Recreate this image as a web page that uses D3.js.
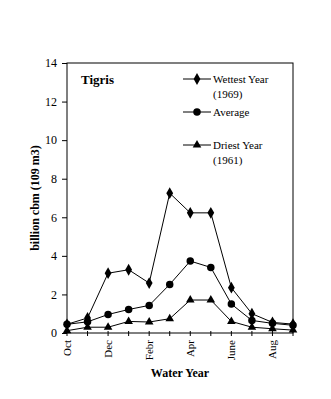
<!DOCTYPE html>
<html>
<head>
  <style>
    body { margin: 0; background: #fff; }
    text { font-family: "Liberation Serif", "Times New Roman", serif; fill: #000; }
  </style>
  <script src="https://d3js.org/d3.v7.min.js"></script>
</head>
<body>
  <svg id="chart" width="331" height="399"></svg>
  <script>
    // months of the water year, Oct..Sep
    const months = ['Oct', 'Nov', 'Dec', 'Jan', 'Febr', 'Mar', 'Apr', 'May', 'June', 'Jul', 'Aug', 'Sep'];
    const shownLabels = ['Oct', 'Dec', 'Febr', 'Apr', 'June', 'Aug'];
    const wettest = [0.45, 0.78, 3.1, 3.28, 2.59, 7.25, 6.23, 6.23, 2.35, 1.0, 0.55, 0.46];
    const average = [0.45, 0.58, 0.96, 1.22, 1.43, 2.52, 3.73, 3.4, 1.5, 0.65, 0.5, 0.4];
    const driest = [0.12, 0.3, 0.3, 0.6, 0.57, 0.74, 1.71, 1.71, 0.6, 0.3, 0.22, 0.15];
    const yTicks = [0, 2, 4, 6, 8, 10, 12, 14];

    const svg = d3.select('#chart');
    const plotL = 67, plotR = 293, plotT = 63, plotB = 333;

    const x = d3.scalePoint().domain(months).range([plotL, plotR]);
    const y = d3.scaleLinear().domain([0, 14]).range([plotB, plotT]);

    // frame
    svg.append('rect')
      .attr('x', plotL).attr('y', plotT)
      .attr('width', plotR - plotL).attr('height', plotB - plotT)
      .attr('fill', 'none').attr('stroke', '#000').attr('stroke-width', 1);

    // y axis
    const yAxis = svg.append('g')
      .attr('transform', `translate(${plotL},0)`)
      .attr('font-family', null)
      .call(d3.axisLeft(y).tickValues(yTicks).tickSize(5).tickPadding(5));
    yAxis.attr('font-family', '"Liberation Serif", serif');
    yAxis.select('.domain').remove();
    yAxis.selectAll('text').style('font-size', '12px');
    yAxis.selectAll('line').attr('stroke', '#000');

    // x ticks (cross the axis line)
    svg.append('g').selectAll('line')
      .data(months).enter().append('line')
      .attr('x1', d => x(d)).attr('x2', d => x(d))
      .attr('y1', plotB - 2).attr('y2', plotB + 3)
      .attr('stroke', '#000');

    svg.append('g').selectAll('text')
      .data(shownLabels).enter().append('text')
      .attr('transform', d => `translate(${x(d) + 4},${plotB + 7}) rotate(-90)`)
      .attr('text-anchor', 'end')
      .style('font-size', '11px')
      .text(d => d);

    // axis titles
    svg.append('text')
      .attr('x', 180).attr('y', 377)
      .attr('text-anchor', 'middle')
      .style('font-size', '12px').style('font-weight', 'bold')
      .text('Water Year');

    svg.append('text')
      .attr('transform', 'translate(39,198) rotate(-90)')
      .attr('text-anchor', 'middle')
      .style('font-size', '12px').style('font-weight', 'bold')
      .text('billion cbm (109 m3)');

    svg.append('text')
      .attr('x', 81).attr('y', 84)
      .style('font-size', '13px').style('font-weight', 'bold')
      .text('Tigris');

    const line = d3.line().x((d, i) => x(months[i])).y(d => y(d));

    const series = [
      { name: 'wettest', values: wettest, shape: d3.symbolDiamond, size: 40 },
      { name: 'average', values: average, shape: d3.symbolCircle, size: 44 },
      { name: 'driest', values: driest, shape: d3.symbolTriangle, size: 32 }
    ];

    series.forEach(s => {
      svg.append('path')
        .datum(s.values)
        .attr('d', line)
        .attr('fill', 'none')
        .attr('stroke', '#000')
        .attr('stroke-width', 1);
      svg.append('g').selectAll('path')
        .data(s.values).enter().append('path')
        .attr('transform', (d, i) => `translate(${x(months[i])},${y(d)})`)
        .attr('d', d3.symbol().type(s.shape).size(s.size))
        .attr('fill', '#000');
    });

    // legend
    const legend = [
      { lines: ['Wettest Year', '(1969)'], y: 79, shape: d3.symbolDiamond, size: 40 },
      { lines: ['Average'], y: 112, shape: d3.symbolCircle, size: 44 },
      { lines: ['Driest Year', '(1961)'], y: 145, shape: d3.symbolTriangle, size: 32 }
    ];
    legend.forEach(l => {
      const g = svg.append('g');
      g.append('line').attr('x1', 183).attr('x2', 211).attr('y1', l.y).attr('y2', l.y).attr('stroke', '#000');
      g.append('path').attr('transform', `translate(197,${l.y})`)
        .attr('d', d3.symbol().type(l.shape).size(l.size)).attr('fill', '#000');
      l.lines.forEach((t, i) => {
        g.append('text').attr('x', 213).attr('y', l.y + 4 + i * 15)
          .style('font-size', '11px').text(t);
      });
    });
  </script>
</body>
</html>
